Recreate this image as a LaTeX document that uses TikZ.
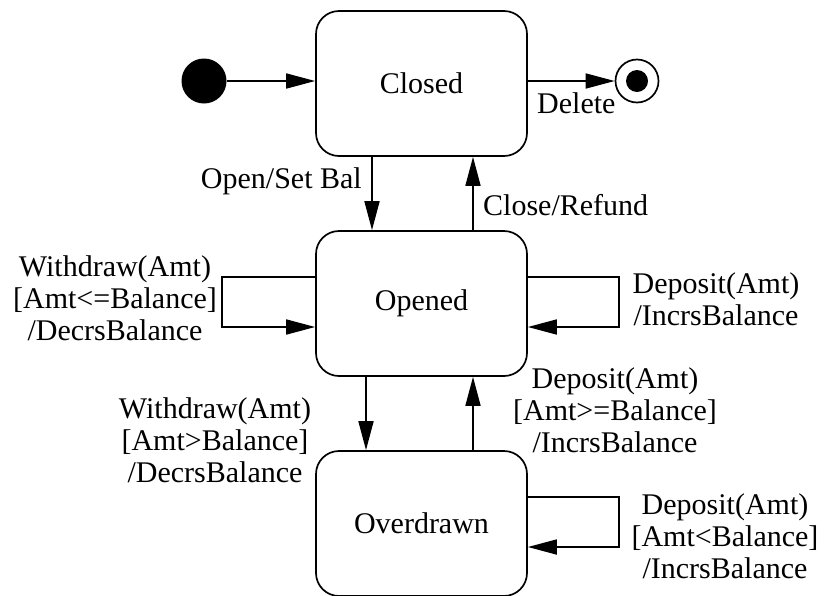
\documentclass[tikz,border=0pt]{standalone}
\usepackage{fontspec}
\setmainfont{Liberation Serif}
\newfontfamily\labelfont{Liberation Serif}
\usetikzlibrary{arrows.meta}
\tikzset{
  x=1pt, y=-1pt,
  every node/.style={font=\labelfont\fontsize{30}{32}\selectfont, inner sep=0pt},
  state/.style={draw, line width=1.7pt, rounded corners=23pt,
                minimum width=211pt, minimum height=145pt, fill=white},
  trans/.style={line width=1.7pt, -{Triangle[length=29pt,width=15pt]}},
  lbl/.style={align=center}
}
\begin{document}
\begin{tikzpicture}
\useasboundingbox (0,0) rectangle (827,595);

% states
\node[state] (closed) at (421.5,83.5) {Closed};
\node[state] (opened) at (421.5,303.5) {Opened};
\node[state] (over)   at (421.5,523.5) {Overdrawn};

% pseudo-states
\node[circle, fill=black, minimum size=45pt] (init) at (204,81) {};
\node[circle, draw, line width=1.7pt, minimum size=43pt] (final) at (637,81) {};
\node[circle, fill=black, minimum size=22pt] (finaldot) at (637,81) {};

% initial and final transitions
\draw[trans] (init) -- (init -| closed.west);
\draw[trans] (closed.east |- final) -- (final);
\node[anchor=base west] (delete) at (537,113) {Delete};

% Closed <-> Opened
\draw[trans] ([xshift=-49.5pt]closed.south) -- ([xshift=-49.5pt]opened.north);
\draw[trans] ([xshift=51.5pt]opened.north) -- ([xshift=51.5pt]closed.south);
\node[anchor=base east] (open) at (362,188) {Open/Set Bal};
\node[anchor=base west] (close) at (483,215) {Close/Refund};

% Opened <-> Overdrawn
\draw[trans] ([xshift=-55.5pt]opened.south) -- ([xshift=-55.5pt]over.north);
\draw[trans] ([xshift=51.5pt]over.north) -- ([xshift=51.5pt]opened.south);

% self transitions
\draw[trans] ([yshift=26.5pt]opened.west) -- ++(-93pt,0) |- ([yshift=-23.5pt]opened.west);
\draw[trans] ([yshift=26.5pt]opened.east) -- ++(91pt,0) |- ([yshift=-23.5pt]opened.east);
\draw[trans] ([yshift=26.5pt]over.east) -- ++(91pt,0) |- ([yshift=-23.5pt]over.east);

% transition labels (anchored at the baseline of their last line)
\node[lbl, anchor=base] (wd1) at (115,340) {Withdraw(Amt)\\{}[Amt<=Balance]\\/DecrsBalance};
\node[lbl, anchor=base] (dp1) at (716,325) {Deposit(Amt)\\/IncrsBalance};
\node[lbl, anchor=base] (dp2) at (615,452) {Deposit(Amt)\\{}[Amt>=Balance]\\/IncrsBalance};
\node[lbl, anchor=base] (wd2) at (215,482) {Withdraw(Amt)\\{}[Amt>Balance]\\/DecrsBalance};
\node[lbl, anchor=base] (dp3) at (725,578) {Deposit(Amt)\\{}[Amt<Balance]\\/IncrsBalance};
\end{tikzpicture}
\end{document}
